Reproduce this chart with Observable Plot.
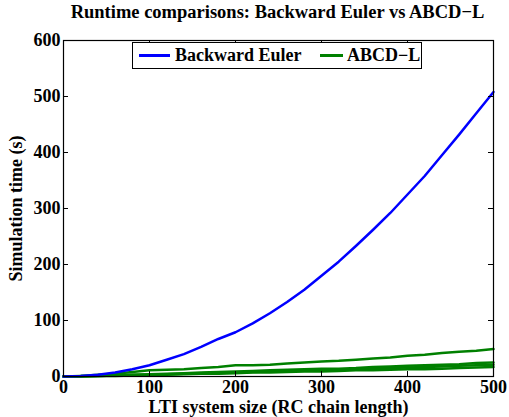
<!DOCTYPE html>
<html>
<head>
<meta charset="utf-8">
<script src="https://cdn.jsdelivr.net/npm/d3@7"></script>
<script src="https://cdn.jsdelivr.net/npm/@observablehq/plot@0.6"></script>
<style>
  html, body { margin: 0; padding: 0; background: #fff; }
  #wrap { position: relative; width: 509px; height: 417px; overflow: hidden; font-family: "Liberation Serif", "Times New Roman", serif; font-weight: bold; color: #000; }
  #title { position: absolute; left: 0; top: 2.5px; width: 509px; text-align: center; font-size: 18.5px; line-height: 18.5px; padding-left: 46px; box-sizing: border-box; white-space: nowrap; }
  #chart { position: absolute; left: 0; top: 28px; }
  #legend { position: absolute; left: 132px; top: 42px; width: 290px; height: 27px; border: 1.5px solid #000; background: #fff; box-sizing: border-box; font-size: 18px; }
  #legend .sw { position: absolute; height: 2.5px; top: 11px; }
  #legend .lt { position: absolute; top: 2px; line-height: 20px; white-space: nowrap; }
</style>
</head>
<body>
<div id="wrap">
  <div id="title">Runtime comparisons: Backward Euler vs ABCD−L</div>
  <div id="chart"></div>
  <div id="legend"></div>
</div>
<script>
// RC chain length (x values)
const sizes = [0, 20, 40, 60, 80, 100, 120, 140, 160, 180, 200, 220, 240, 260, 280, 300, 320, 340, 360, 380, 400, 420, 440, 460, 480, 500];
// Backward Euler simulation time (s)
const backwardEuler = [0, 1, 3, 7, 13, 20, 30, 40, 53, 67, 79, 95, 113, 133, 155, 180, 205, 233, 262, 292, 325, 358, 395, 432, 470, 508];
// ABCD-L runs (several green curves)
const abcdL1 = [0, 1, 3, 5, 8, 11, 12, 13, 15, 17, 20, 20, 21, 23, 25, 27, 28, 30, 32, 34, 37, 39, 42, 44, 46, 49];
const abcdL2 = [0, 1, 1, 2, 3, 4, 5, 6, 7, 8, 9, 10, 11, 12, 13, 14, 14, 15, 17, 18, 19, 20, 21, 22, 24, 25];
const abcdL3 = [0, 0, 1, 2, 3, 3, 4, 5, 6, 7, 7, 8, 9, 10, 11, 11, 12, 13, 14, 15, 16, 17, 18, 19, 20, 21];
const abcdL4 = [0, 0, 1, 1, 2, 3, 3, 4, 5, 5, 6, 7, 7, 8, 9, 9, 10, 11, 11, 12, 13, 13, 14, 15, 16, 17];
const xTicks = [0, 100, 200, 300, 400, 500];
const yTicks = [0, 100, 200, 300, 400, 500, 600];
const seriesNames = ["Backward Euler", "ABCD−L"];
const seriesColors = ["#0000ff", "#008000"];

const rows = [];
sizes.forEach((s, i) => {
  rows.push({id: "be", name: seriesNames[0], x: s, y: backwardEuler[i]});
  rows.push({id: "a1", name: seriesNames[1], x: s, y: abcdL1[i]});
  rows.push({id: "a2", name: seriesNames[1], x: s, y: abcdL2[i]});
  rows.push({id: "a3", name: seriesNames[1], x: s, y: abcdL3[i]});
  rows.push({id: "a4", name: seriesNames[1], x: s, y: abcdL4[i]});
});

const W = 509, H = 389;
const mL = 63, mR = 16, mT = 12, mB = 41;
const fw = W - mL - mR, fh = H - mT - mB;
const tl = 5;

const chart = Plot.plot({
  width: W, height: H,
  marginLeft: mL, marginRight: mR, marginTop: mT, marginBottom: mB,
  style: {fontFamily: "'Liberation Serif', 'Times New Roman', serif", fontWeight: "bold", fontSize: "18px", background: "#fff", color: "#000", overflow: "visible"},
  x: {domain: [0, 500]},
  y: {domain: [0, 600]},
  color: {domain: seriesNames, range: seriesColors},
  marks: [
    Plot.line(rows.filter(d => d.id !== "be"), {x: "x", y: "y", z: "id", stroke: "name", strokeWidth: 2.5}),
    Plot.line(rows.filter(d => d.id === "be"), {x: "x", y: "y", z: "id", stroke: "name", strokeWidth: 2.5}),
    Plot.tickX(xTicks, {x: d => d, insetTop: fh - tl, stroke: "#000"}),
    Plot.tickX(xTicks, {x: d => d, insetBottom: fh - tl, stroke: "#000"}),
    Plot.tickY(yTicks, {y: d => d, insetLeft: fw - tl, stroke: "#000"}),
    Plot.tickY(yTicks, {y: d => d, insetRight: fw - tl, stroke: "#000"}),
    Plot.frame({stroke: "#000", strokeWidth: 1.2}),
    Plot.axisX({ticks: xTicks, tickSize: 0, tickPadding: 3.5, tickFormat: d => String(d), label: "LTI system size (RC chain length)", labelAnchor: "center", labelOffset: 36.5, labelArrow: "none", fontSize: 18}),
    Plot.axisY({ticks: yTicks, tickSize: 0, tickPadding: 3, tickFormat: d => String(d), label: "Simulation time (s)", labelAnchor: "center", labelOffset: 54, labelArrow: "none", fontSize: 18})
  ]
});
document.getElementById("chart").appendChild(chart);

// legend entries positioned inside the legend box
const legend = document.getElementById("legend");
const legendLayout = [{sw: [6, 31], tx: 42}, {sw: [187, 23], tx: 214}];
seriesNames.forEach((n, i) => {
  const sw = document.createElement("span");
  sw.className = "sw";
  sw.style.left = legendLayout[i].sw[0] + "px";
  sw.style.width = legendLayout[i].sw[1] + "px";
  sw.style.background = seriesColors[i];
  legend.appendChild(sw);
  const t = document.createElement("span");
  t.className = "lt";
  t.style.left = legendLayout[i].tx + "px";
  t.textContent = n;
  legend.appendChild(t);
});
</script>
</body>
</html>
